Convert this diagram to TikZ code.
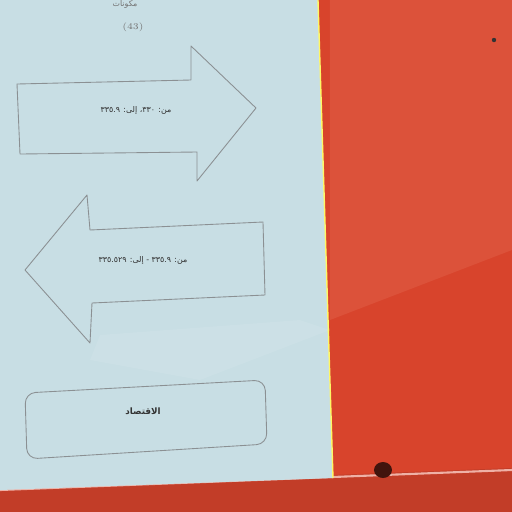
\documentclass[tikz,border=0pt]{standalone}
\usepackage{fontspec}
\TeXXeTstate=1
\newfontfamily\arabicfont[Script=Arabic]{DejaVu Sans}
\definecolor{redbg}{HTML}{D8442C}
\definecolor{redlight}{HTML}{DC523A}
\definecolor{paper}{HTML}{C8DEE4}
\definecolor{ink}{HTML}{6E7478}
\tikzset{
  outline/.style={draw=ink!80, line width=0.5pt, line join=round},
  lbl/.style={inner sep=0pt, text=black!80, font=\arabicfont\fontsize{4.5}{5}\selectfont}
}
\begin{document}
\begin{tikzpicture}[x=0.02cm,y=-0.02cm]
\useasboundingbox (0,0) rectangle (512,512);
% red background
\fill[redbg] (0,0) rectangle (512,512);
\fill[redlight] (330,0) -- (512,0) -- (512,250) -- (330,320) -- cycle;
% bottom strip
\fill[redbg!90!black] (0,488) -- (512,468) -- (512,512) -- (0,512) -- cycle;
\draw[white!55!redlight, line width=1.2pt] (0,490) -- (512,470);
% paper
\fill[paper] (0,0) -- (318,0) -- (333,478) -- (0,490) -- cycle;
\fill[paper!85!white, opacity=0.5] (100,335) -- (300,320) -- (330,330) -- (200,380) -- (90,360) -- cycle;
\draw[yellow!60!white, line width=0.8pt] (318,0) -- (333,478);
% hole and dot
\fill[black!70!redbg] (383,470) ellipse (9 and 8);
\fill[black!80] (494,40) circle (2.2);
% arrow 1 (right)
\draw[outline] (17,84) -- (191,80) -- (191,46) -- (256,108) -- (197,181) -- (197,152) -- (20,154) -- cycle;
% arrow 2 (left)
\draw[outline] (25,270) -- (87,195) -- (90,230) -- (263,222) -- (265,295) -- (92,303) -- (90,343) -- cycle;
% bottom rounded box
\draw[outline, rounded corners=6] (25,393) -- (265,380) -- (267,444) -- (27,459) -- cycle;
% texts
\node[lbl] (t1) at (136,110) {\beginR من: ٣٣٠، إلى: ٣٣٥.٩\endR};
\node[lbl] (t2) at (143,260) {\beginR من: ٣٣٥.٩ - إلى: ٣٣٥.٥٢٩\endR};
\node[lbl, font=\arabicfont\fontsize{5}{6}\selectfont\bfseries] (t3) at (143,411) {\beginR الاقتصاد\endR};
\node[lbl, font=\fontsize{5}{6}\selectfont, text=black!55] (num) at (133,27) {(43)};
\node[lbl, text=black!55] (top) at (125,4) {\beginR مكونات\endR};
\end{tikzpicture}
\end{document}
